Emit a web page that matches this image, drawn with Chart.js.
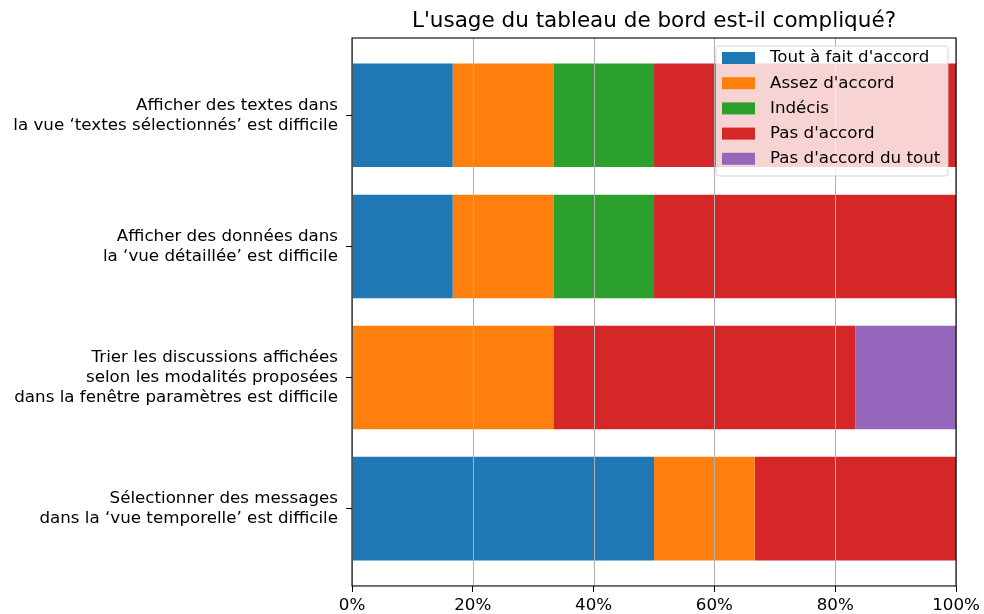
<!DOCTYPE html>
<html lang="fr">
<head>
<meta charset="utf-8">
<title>Usage du tableau de bord</title>
<script src="https://cdn.jsdelivr.net/npm/chart.js@4/dist/chart.umd.min.js"></script>
<style>
    body { margin: 0; background: #fff; }
    #wrap { width: 984px; height: 614px; }
</style>
</head>
<body>
<div id="wrap"><canvas id="surveyChart" width="984" height="614"></canvas></div>
<script>
// survey.js - questionnaire results (tableau de bord)

const chartTitle = "L'usage du tableau de bord est-il compliqué?";

// questions, top to bottom (one entry per line of the label)
const questions = [
    ['Afficher des textes dans', 'la vue \u2018textes sélectionnés\u2019 est difficile'],
    ['Afficher des données dans', 'la \u2018vue détaillée\u2019 est difficile'],
    ['Trier les discussions affichées', 'selon les modalités proposées', 'dans la fenêtre paramètres est difficile'],
    ['Sélectionner des messages', 'dans la \u2018vue temporelle\u2019 est difficile']
];

const answers = ["Tout à fait d'accord", "Assez d'accord", 'Indécis', "Pas d'accord", "Pas d'accord du tout"];
const answerColors = ['#1f77b4', '#ff7f0e', '#2ca02c', '#d62728', '#9467bd'];

// share of respondents (%) per question, same order as questions
const toutAFait  = [16.67, 16.67, 0, 50];
const assez      = [16.67, 16.67, 33.33, 16.67];
const indecis    = [16.67, 16.67, 0, 0];
const pasDaccord = [50, 50, 50, 33.33];
const pasDuTout  = [0, 0, 16.67, 0];

const seriesValues = [toutAFait, assez, indecis, pasDaccord, pasDuTout];

const xTicks = [0, 20, 40, 60, 80, 100];

const FONT = "'DejaVu Sans', 'Liberation Sans', sans-serif";
const TICK_SIZE = 16.7;

// Gridlines and frame go on top of the bars, then title and legend box
const overlayPlugin = {
    id: 'overlay',
    afterDatasetsDraw(chart) {
        const ctx = chart.ctx;
        const area = chart.chartArea;
        const xScale = chart.scales.x;

        ctx.save();
        ctx.strokeStyle = '#b0b0b0';
        ctx.lineWidth = 1;
        xTicks.forEach(v => {
            const px = Math.round(xScale.getPixelForValue(v)) + 0.5;
            ctx.beginPath();
            ctx.moveTo(px, area.top);
            ctx.lineTo(px, area.bottom);
            ctx.stroke();
        });

        // axes frame
        ctx.strokeStyle = '#000';
        ctx.lineWidth = 1.1;
        ctx.strokeRect(area.left, area.top, area.right - area.left, area.bottom - area.top);
        ctx.restore();
    },
    afterDraw(chart) {
        const ctx = chart.ctx;
        const area = chart.chartArea;

        ctx.save();
        // title
        ctx.fillStyle = '#000';
        ctx.font = '21.5px ' + FONT;
        ctx.textAlign = 'center';
        ctx.textBaseline = 'alphabetic';
        ctx.fillText(chartTitle, (area.left + area.right) / 2, 27);

        // legend box, upper right inside the plot
        const boxX = 716, boxY = 46, boxW = 232, boxH = 130;
        ctx.beginPath();
        ctx.roundRect(boxX, boxY, boxW, boxH, 3);
        ctx.fillStyle = 'rgba(255,255,255,0.8)';
        ctx.fill();
        ctx.strokeStyle = 'rgba(204,204,204,0.8)';
        ctx.lineWidth = 1;
        ctx.stroke();

        ctx.font = TICK_SIZE + 'px ' + FONT;
        ctx.textAlign = 'left';
        ctx.textBaseline = 'middle';
        chart.data.datasets.forEach((ds, i) => {
            const cy = 58 + i * 25.2;
            ctx.fillStyle = ds.backgroundColor;
            ctx.fillRect(722, cy - 6, 33, 12);
            ctx.fillStyle = '#000';
            ctx.fillText(ds.label, 770, cy);
        });
        ctx.restore();
    }
};

// Build datasets
function buildDatasets() {
    return answers.map((name, s) => ({
        label: name,
        data: seriesValues[s].map((v, q) => ({ x: v, y: q })),
        backgroundColor: answerColors[s],
        borderWidth: 0,
        categoryPercentage: 0.79,
        barPercentage: 1
    }));
}

// Render chart
function renderChart() {
    const ctx = document.getElementById('surveyChart');

    new Chart(ctx, {
        type: 'bar',
        data: { datasets: buildDatasets() },
        plugins: [overlayPlugin],
        options: {
            indexAxis: 'y',
            responsive: false,
            animation: false,
            devicePixelRatio: 1,
            layout: { padding: { top: 38, right: 28, left: 0, bottom: 0 } },
            plugins: {
                legend: { display: false },
                title: { display: false },
                tooltip: { enabled: false }
            },
            scales: {
                x: {
                    type: 'linear',
                    stacked: true,
                    min: 0,
                    max: 100,
                    border: { display: false },
                    grid: { color: 'rgba(0,0,0,0)', tickColor: '#000', tickLength: 6, drawTicks: true },
                    afterBuildTicks: scale => { scale.ticks = xTicks.map(v => ({ value: v })); },
                    ticks: {
                        callback: v => v + '%',
                        color: '#000',
                        padding: 4,
                        maxRotation: 0,
                        font: { family: FONT, size: TICK_SIZE }
                    },
                    afterFit: scale => { scale.height = 28; }
                },
                y: {
                    type: 'linear',
                    stacked: true,
                    reverse: true,
                    offset: false,
                    min: -0.59,
                    max: 3.59,
                    border: { display: false },
                    grid: { offset: false, color: 'rgba(0,0,0,0)', tickColor: '#000', tickLength: 6, drawTicks: true },
                    afterBuildTicks: scale => { scale.ticks = questions.map((q, i) => ({ value: i })); },
                    ticks: {
                        callback: v => questions[v],
                        color: '#000',
                        padding: 8,
                        autoSkip: false,
                        font: { family: FONT, size: TICK_SIZE, lineHeight: 1.2 }
                    },
                    afterFit: scale => { scale.width = 352; }
                }
            }
        }
    });
}

renderChart();
</script>
</body>
</html>
